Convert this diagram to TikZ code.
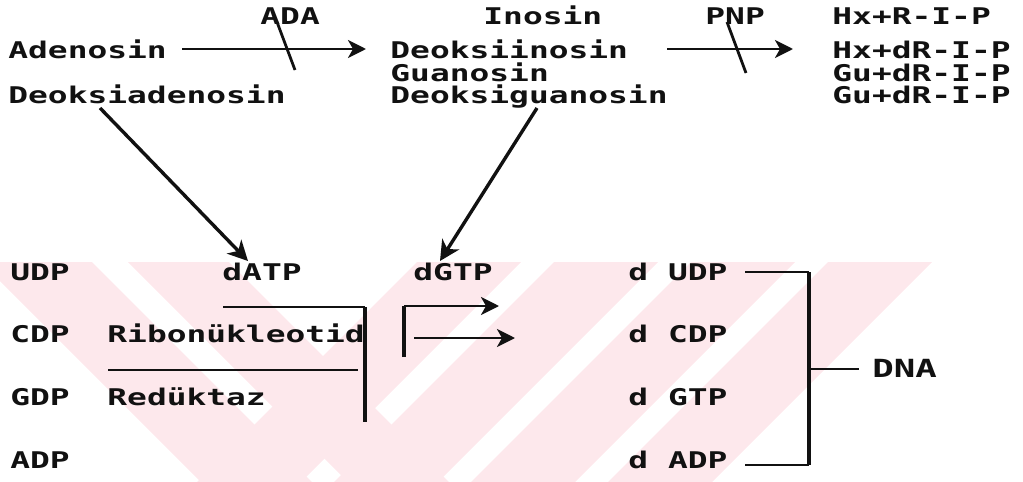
\documentclass[tikz,border=0pt]{standalone}
\usepackage{fontspec}
\usetikzlibrary{arrows.meta}
% dot-matrix look: wide monospace glyphs
\newfontfamily\dotfont[FakeStretch=1.43,LetterSpace=0]{DejaVu Sans Mono}
\definecolor{ink}{RGB}{17,17,17}
\definecolor{wm}{RGB}{253,232,236}
\tikzset{
  lbl/.style={anchor=base west, inner sep=0pt, text=ink,
    font=\dotfont\bfseries\fontsize{11.5}{13}\selectfont},
  big/.style={lbl, font=\dotfont\bfseries\fontsize{12.5}{14}\selectfont},
  ln/.style={draw=ink, line width=1.4pt},
  thick ln/.style={draw=ink, line width=1.9pt},
  arr/.style={ln, -{Stealth[length=9pt,width=9pt,inset=2.5pt]}},
  darr/.style={draw=ink, line width=1.7pt, -{Stealth[length=10pt,width=10pt,inset=3pt]}},
  band/.style={fill=wm, draw=none},
}
\begin{document}
\begin{tikzpicture}[x=0.5pt,y=-0.5pt]
\useasboundingbox (0,0) rectangle (1023,482);

% pale diagonal bands in the lower half
\begin{scope}
  \clip (0,262) rectangle (1023,482);
  % bands leaning right
  \fill[band] (-19,262) -- (92,262) -- (312,482) -- (201,482) -- cycle;
  \fill[band] (128,262) -- (229,262) -- (449,482) -- (348,482) -- cycle;
  % bands leaning left
  \foreach \x in {417,554,691,828}
    \fill[band] (\x,262) -- (\x+104,262) -- (\x-116,482) -- (\x-220,482) -- cycle;
\end{scope}

% upper rows: nucleosides and their cleavage products
\node[lbl] (ada)  at (260,25) {ADA};
\node[lbl] (ino)  at (483,25) {Inosin};
\node[lbl] (pnp)  at (705,25) {PNP};
\node[lbl] (p1)   at (832,25) {Hx+R-I-P};

\node[lbl] (aden) at (8,58)   {Adenosin};
\node[lbl] (dino) at (390,58) {Deoksiinosin};
\node[lbl] (p2)   at (832,58) {Hx+dR-I-P};

\node[lbl] (guan) at (390,81) {Guanosin};
\node[lbl] (p3)   at (832,81) {Gu+dR-I-P};

\node[lbl] (dade) at (8,103)   {Deoksiadenosin};
\node[lbl] (dguo) at (390,103) {Deoksiguanosin};
\node[lbl] (p4)   at (832,103) {Gu+dR-I-P};

% lower rows: nucleotides
\node[lbl] (udp)  at (10,280)  {UDP};
\node[lbl] (datp) at (222,280) {dATP};
\node[lbl] (dgtp) at (413,280) {dGTP};
\node[lbl] (dudp) at (628,280) {d UDP};

\node[lbl] (cdp)  at (10,342)  {CDP};
\node[lbl] (rib)  at (107,342) {Ribonükleotid};
\node[lbl] (dcdp) at (628,342) {d CDP};

\node[lbl] (gdp)  at (10,405)  {GDP};
\node[lbl] (red)  at (107,405) {Redüktaz};
\node[lbl] (dgtq) at (628,405) {d GTP};

\node[lbl] (adp)  at (10,468)  {ADP};
\node[lbl] (dadp) at (628,468) {d ADP};

\node[big] (dna)  at (872,377) {DNA};

% end points of the connectors
\coordinate (a1s) at (182,49);  \coordinate (a1e) at (366,49);
\coordinate (s1a) at (277,22);  \coordinate (s1b) at (295,70);
\coordinate (a2s) at (667,49);  \coordinate (a2e) at (793,49);
\coordinate (s2a) at (727,22);  \coordinate (s2b) at (746,73);
\coordinate (d1s) at (100,108); \coordinate (d1e) at (248,261);
\coordinate (d2s) at (537,108); \coordinate (d2e) at (440,261);
\coordinate (b1a) at (223,307); \coordinate (b1b) at (365,307); \coordinate (b1c) at (365,422);
\coordinate (r1a) at (108,370); \coordinate (r1b) at (358,370);
\coordinate (b2a) at (404,357); \coordinate (b2b) at (404,306); \coordinate (b2c) at (499,306);
\coordinate (b2d) at (414,338); \coordinate (b2e) at (515,338);
\coordinate (k1) at (745,272); \coordinate (k2) at (809,272);
\coordinate (k3) at (809,465); \coordinate (k4) at (745,465);
\coordinate (k5) at (809,369); \coordinate (k6) at (859,369);

% ADA and PNP reactions, each crossed by its enzyme stroke
\draw[arr] (a1s) -- (a1e);
\draw[ln] (s1a) -- (s1b);
\draw[arr] (a2s) -- (a2e);
\draw[ln] (s2a) -- (s2b);

% deoxynucleosides feeding dATP and dGTP
\draw[darr] (d1s) -- (d1e);
\draw[darr] (d2s) -- (d2e);

% ribonucleotide reductase block
\draw[ln] (b1a) -- (b1b);
\draw[thick ln] (b1b) -- (b1c);
\draw[ln] (r1a) -- (r1b);
\draw[thick ln] (b2a) -- (b2b);
\draw[arr] (b2b) -- (b2c);
\draw[arr] (b2d) -- (b2e);

% deoxynucleotides joined into DNA
\draw[ln] (k1) -- (k2);
\draw[ln] (k4) -- (k3);
\draw[thick ln] (k2) -- (k3);
\draw[ln] (k5) -- (k6);
\end{tikzpicture}
\end{document}
